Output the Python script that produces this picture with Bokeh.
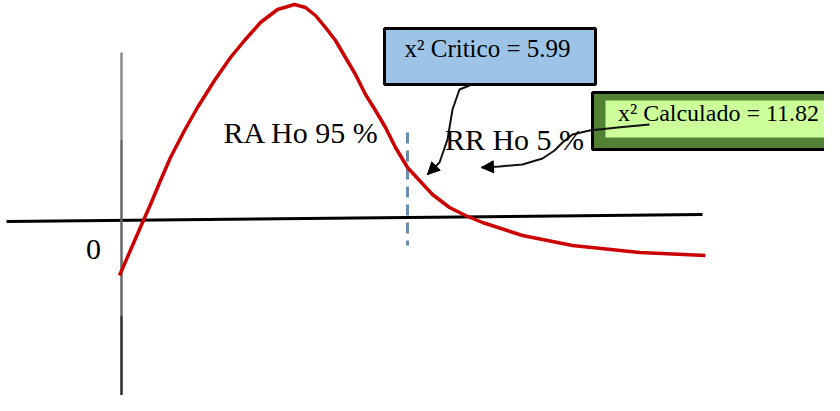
from bokeh.plotting import figure
from bokeh.models import Range1d, Arrow, NormalHead
from bokeh.core.properties import value
from bokeh.embed import file_html
from bokeh.resources import INLINE

# --- data (diagram units = picture pixels) ---
curve_x = [127, 140, 150, 158, 168, 178, 192, 205, 222, 238, 252, 268, 285, 302,
           313, 323, 333, 343, 353, 363, 373, 383, 393, 403, 415, 427, 440, 457,
           473, 490, 530, 580, 647, 713]
curve_y = [283, 253, 230, 212, 188, 165, 138, 115, 88, 65, 48, 30, 17, 12,
           15, 23, 35, 48, 65, 82, 102, 118, 135, 155, 175, 188, 202, 215,
           223, 230, 243, 253, 260, 263]

haxis_x = [14, 710]
haxis_y = [229, 222]

vaxis_x = [129, 129]
vaxis_segments_y = [[60, 147], [147, 323], [323, 410]]
vaxis_colors = ["#8a8a8a", "#666666", "#2a2a2a"]

critical_x = [415, 415]
critical_y = [140, 253]

arrow1_x = [477, 467, 460, 455, 447, 435]
arrow1_y = [93, 97, 117, 147, 170, 182]
arrow2_x = [657, 625, 597, 580, 570, 562, 550, 530, 507, 489]
arrow2_y = [132, 135, 138, 142, 150, 158, 166, 172, 174, 175]

box_crit = dict(left=392, right=603, top=36, bottom=92)
box_calc_outer = dict(left=600, right=840, top=100, bottom=157)
box_calc_inner = dict(left=613, right=837, top=108, bottom=145)

region_labels = ["RA Ho 95 %", "RR Ho 5 %", "0"]
region_x = [309, 522, 101]
region_y = [140, 147, 257]

box_labels = ["x\u00b2 Critico = 5.99", "x\u00b2 Calculado = 11.82"]
box_label_x = [495, 726]
box_label_y = [56, 120]
box_label_sizes = ["25px", "24px"]

# --- figure ---
p = figure(width=824, height=395, output_backend="svg", toolbar_location=None,
           x_range=Range1d(8, 832), y_range=Range1d(403, 8),
           min_border=0, outline_line_color=None)
p.axis.visible = False
p.grid.visible = False
p.background_fill_color = "white"
p.border_fill_color = "white"

# axes of the diagram
p.line(haxis_x, haxis_y, line_color="black", line_width=3)
for seg, col in zip(vaxis_segments_y, vaxis_colors):
    p.line(vaxis_x, seg, line_color=col, line_width=2.5)

# critical value dashed line
p.line(critical_x, critical_y, line_color="#6a8caf", line_width=3, line_dash="11 7")

# distribution curve
p.line(curve_x, curve_y, line_color="#cc0000", line_width=3.5, line_join="round")

# boxes
p.quad(fill_color="#9dc3e6", line_color="black", line_width=3, **box_crit)
p.quad(fill_color="#548235", line_color="black", line_width=3, **box_calc_outer)
p.quad(fill_color="#ccff99", line_color=None, **box_calc_inner)

# arrows
for ax, ay in [(arrow1_x, arrow1_y), (arrow2_x, arrow2_y)]:
    p.line(ax, ay, line_color="#111111", line_width=2)
    p.add_layout(Arrow(end=NormalHead(size=12, fill_color="black", line_color="black"),
                       x_start=ax[-2], y_start=ay[-2], x_end=ax[-1], y_end=ay[-1],
                       line_alpha=0))

# texts
p.text(x=region_x, y=region_y, text=region_labels, text_align="center",
       text_baseline="middle", text_font=value("Liberation Serif"),
       text_font_size="30px", text_color="black")
for lx, ly, lt, ls in zip(box_label_x, box_label_y, box_labels, box_label_sizes):
    p.text(x=[lx], y=[ly], text=[lt], text_align="center",
           text_baseline="middle", text_font=value("Liberation Serif"),
           text_font_size=ls, text_color="black")

open("out.html", "w").write(file_html(p, INLINE))
